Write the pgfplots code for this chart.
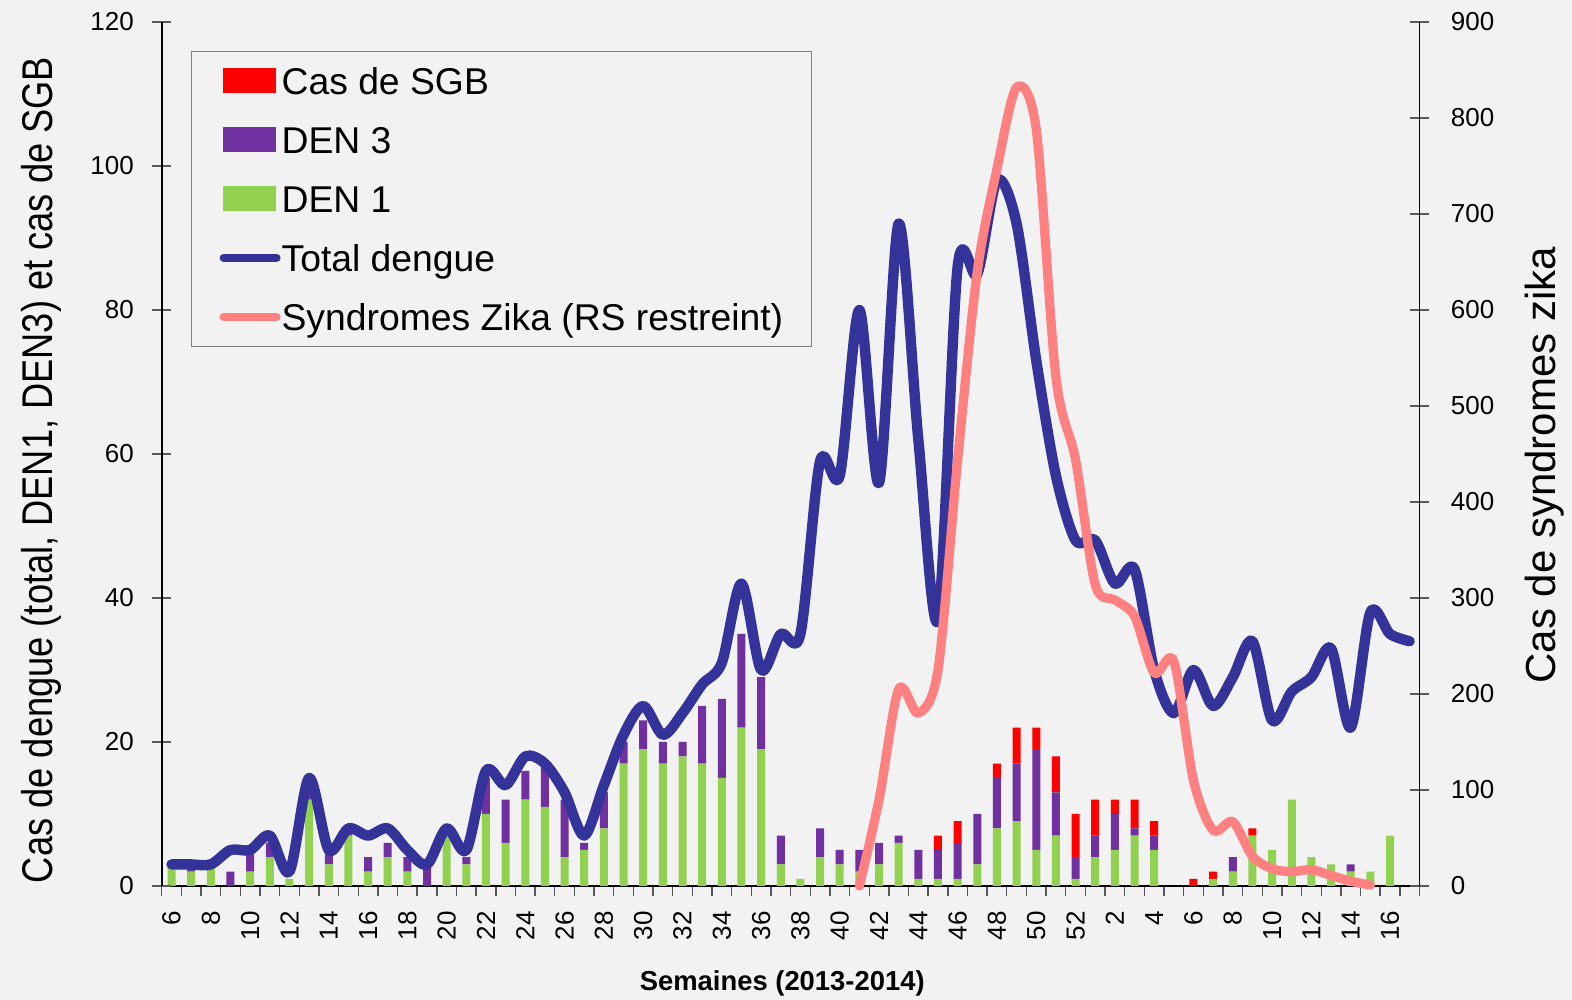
\documentclass[border=0pt]{standalone}
\usepackage{pgfplots}
\pgfplotsset{compat=1.18}
\usepackage{pgfplotstable}
\usepackage{fontspec}
\setmainfont{Liberation Sans}
\usepackage{graphicx}

\definecolor{bg}{HTML}{F2F2F2}
\definecolor{den1}{HTML}{92D050}
\definecolor{den3}{HTML}{7030A0}
\definecolor{sgb}{HTML}{FF0000}
\definecolor{dblue}{HTML}{333399}
\definecolor{zpink}{HTML}{FF8080}
\definecolor{tickgray}{HTML}{595959}

\pgfplotstableread{
x den1 den3 sgb total
0 3 0 0 3
1 2 1 0 3
2 3 0 0 3
3 0 2 0 5
4 2 3 0 5
5 4 2 0 7
6 1 0 0 2
7 12 2 0 15
8 3 2 0 5
9 7 1 0 8
10 2 2 0 7
11 4 2 0 8
12 2 2 0 5
13 0 3 0 3
14 7 0 0 8
15 3 1 0 5
16 10 5 0 16
17 6 6 0 14
18 12 4 0 18
19 11 6 0 17
20 4 8 0 13
21 5 1 0 7
22 8 5 0 14
23 17 3 0 21
24 19 4 0 25
25 17 3 0 21
26 18 2 0 24
27 17 8 0 28
28 15 11 0 31
29 22 13 0 42
30 19 10 0 30
31 3 4 0 35
32 1 0 0 35
33 4 4 0 59
34 3 2 0 57
35 2 3 0 80
36 3 3 0 56
37 6 1 0 92
38 1 4 0 62
39 1 4 2 37
40 1 5 3 86
41 3 7 0 85
42 8 7 2 98
43 9 8 5 92
44 5 14 3 73
45 7 6 5 57
46 1 3 6 48
47 4 3 5 48
48 5 5 2 42
49 7 1 4 44
50 5 2 2 30
51 0 0 0 24
52 0 0 1 30
53 1 0 1 25
54 2 2 0 29
55 7 0 1 34
56 5 0 0 23
57 12 0 0 27
58 4 0 0 29
59 3 0 0 33
60 2 1 0 22
61 2 0 0 38
62 7 0 0 35
63 0 0 0 34
}\dengue

\pgfplotstableread{
x zika
35 0
36 90
37 205
38 180
39 225
40 444
41 640
42 747
43 832
44 788
45 530
46 444
47 314
48 298
49 281
50 222
51 234
52 110
53 58
54 67
55 31
56 18
57 15
58 17
59 11
60 5
61 1
}\zika

\begin{document}
\begin{tikzpicture}
\fill[bg] (-80.85bp,-57bp) rectangle (705.15bp,443bp);
\pgfplotsset{base/.style={scale only axis, width=628.9bp, height=432bp,
  at={(0,0)}, anchor=south west, xmin=-0.5, xmax=63.5,
  ticklabel style={font=\fontsize{13bp}{15bp}\selectfont},
  /pgf/number format/assume math mode=true,
  axis line style={black, line width=0.9bp},
  tick style={tickgray, line width=0.7bp}}}

\begin{axis}[base, ymin=0, ymax=120, ybar stacked, bar width=4bp,
  axis x line*=bottom, axis y line*=left, ytick=\empty,
  xtick={-0.5,0.5,...,63.5},
  xticklabels={6,,8,,10,,12,,14,,16,,18,,20,,22,,24,,26,,28,,30,,32,,34,,36,,38,,40,,42,,44,,46,,48,,50,,52,,2,,4,,6,,8,,10,,12,,14,,16,,},
  xticklabel style={xshift=4.915bp, yshift=-7.5bp, rotate=90, anchor=east, inner sep=0pt},
  tick align=outside, major tick length=5bp,
  xlabel={\bfseries\fontsize{13.7bp}{16bp}\selectfont Semaines (2013-2014)},
  xlabel style={at={(axis description cs:0.4934,-0.1204)}, anchor=base, inner sep=0pt}]
\addplot[fill=den1, draw=none] table[x=x,y=den1]{\dengue};
\addplot[fill=den3, draw=none] table[x=x,y=den3]{\dengue};
\addplot[fill=sgb, draw=none] table[x=x,y=sgb]{\dengue};
\end{axis}

\begin{axis}[base, ymin=0, ymax=120, axis y line*=left, axis x line=none, xtick=\empty,
  ytick={0,20,...,120}, tick align=center, major tick length=9.5bp, clip=false,
  yticklabel style={anchor=east, inner sep=0pt, xshift=-9bp},
  ylabel={\scalebox{0.843}[1]{\fontsize{21.5bp}{24bp}\selectfont Cas de dengue (total, DEN1, DEN3) et cas de SGB}},
  ylabel style={at={(axis description cs:-0.0872,0.4815)}, anchor=base, inner sep=0pt}]
\addplot[dblue, line width=5.2bp, smooth, line join=round, line cap=round] table[x=x,y=total]{\dengue};
\end{axis}

\begin{axis}[base, ymin=0, ymax=900, axis y line*=right, axis x line=none, xtick=\empty,
  ytick={0,100,...,900}, tick align=center, major tick length=10bp, clip=false,
  yticklabel style={anchor=west, inner sep=0pt, xshift=10.5bp},
  ylabel={\fontsize{21bp}{24bp}\selectfont Cas de syndromes zika},
  ylabel style={at={(axis description cs:1.1078,0.487)}, anchor=base, rotate=0, inner sep=0pt},
  legend cell align=left,
  legend style={at={(0.0233,0.9668)}, anchor=north west, draw=gray, line width=0.6bp, fill=bg,
    font=\fontsize{18.65bp}{20bp}\selectfont, inner xsep=14bp, inner ysep=0pt, row sep=0pt, column sep=0.5bp,
    nodes={inner xsep=0pt, inner ysep=0pt, text height=21.4bp, text depth=8.1bp}}]
\addplot[zpink, line width=4.6bp, smooth, line join=round, line cap=round, forget plot] table[x=x,y=zika]{\zika};
\addlegendimage{legend image code/.code={\fill[sgb] (0bp,-6bp) rectangle (26bp,6bp);}}
\addlegendimage{legend image code/.code={\fill[den3] (0bp,-6bp) rectangle (26bp,6bp);}}
\addlegendimage{legend image code/.code={\fill[den1] (0bp,-6bp) rectangle (26bp,6bp);}}
\addlegendimage{legend image code/.code={\draw[dblue, line width=4bp, line cap=round] (0bp,0bp) -- (26.5bp,0bp);}}
\addlegendimage{legend image code/.code={\draw[zpink, line width=4bp, line cap=round] (0bp,0bp) -- (26.5bp,0bp);}}
\legend{Cas de SGB, DEN 3, DEN 1, Total dengue, Syndromes Zika (RS restreint)}
\end{axis}
\pgfresetboundingbox
\path[use as bounding box] (-80.85bp,-57bp) rectangle (705.15bp,443bp);
\end{tikzpicture}
\end{document}
